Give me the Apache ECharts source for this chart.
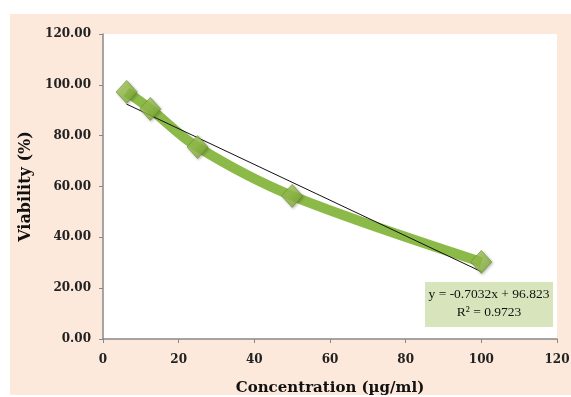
<!DOCTYPE html>
<html>
<head>
<meta charset="utf-8">
<script src="https://cdn.jsdelivr.net/npm/echarts@6/dist/echarts.min.js"></script>
<style>
html,body{margin:0;padding:0;background:#fff;}
#c{width:571px;height:397px;}
</style>
</head>
<body>
<div id="c"></div>
<script>
var concentrations = [6.25, 12.5, 25, 50, 100];
var viability = [97.2, 90.5, 75.5, 56.3, 30.3];
var trendX = [6.25, 100];
var trendY = [92.4, 26.5];
var yTicks = [0, 20, 40, 60, 80, 100, 120];
var xTicks = [0, 20, 40, 60, 80, 100, 120];
var equationText = 'y = -0.7032x + 96.823';
var r2Text = 'R\u00b2 = 0.9723';

var pts = concentrations.map(function(x, i){ return [x, viability[i]]; });
var trend = trendX.map(function(x, i){ return [x, trendY[i]]; });

var chart = echarts.init(document.getElementById('c'), null, {renderer:'canvas'});
var labelFont = {fontFamily:'DejaVu Serif', fontWeight:'bold', fontSize:12, color:'#222'};
chart.setOption({
  animation:false,
  backgroundColor:'#ffffff',
  graphic:[
    {type:'rect', z:-10, shape:{x:10,y:14,width:561,height:381}, style:{fill:'#fde9db'}, silent:true},
    {type:'rect', z:100, shape:{x:425,y:282,width:128,height:45}, style:{fill:'#d7e4bc'}},
    {type:'text', z:101, x:489, y:287, style:{text:equationText, fill:'#111', font:'13.5px "Liberation Serif"', textAlign:'center', textVerticalAlign:'top'}},
    {type:'text', z:101, x:489, y:305, style:{text:r2Text, fill:'#111', font:'13.5px "Liberation Serif"', textAlign:'center', textVerticalAlign:'top'}}
  ],
  grid:{left:103, right:14, top:34, bottom:58, show:true, backgroundColor:'#ffffff', borderWidth:0, outerBoundsMode:'none', containLabel:false},
  xAxis:{
    type:'value', min:0, max:120, interval:20,
    name:'Concentration (\u00b5g/ml)', nameLocation:'middle', nameGap:42,
    nameTextStyle:{fontFamily:'DejaVu Serif', fontWeight:'bold', fontSize:15, color:'#111'},
    axisLine:{show:true, lineStyle:{color:'#888', width:1.5}},
    axisTick:{show:true, length:4, lineStyle:{color:'#888'}},
    axisLabel:Object.assign({margin:15, formatter:function(v){return xTicks.indexOf(v)>=0?String(v):'';}}, labelFont),
    splitLine:{show:false}
  },
  yAxis:{
    type:'value', min:0, max:120, interval:20,
    name:'Viability (%)', nameLocation:'middle', nameGap:68,
    nameTextStyle:{fontFamily:'DejaVu Serif', fontWeight:'bold', fontSize:16, color:'#111'},
    axisLine:{show:true, lineStyle:{color:'#888', width:1.5}},
    axisTick:{show:true, length:4, lineStyle:{color:'#888'}},
    axisLabel:Object.assign({margin:12, formatter:function(v){return yTicks.indexOf(v)>=0?v.toFixed(2):'';}}, labelFont),
    splitLine:{show:false}
  },
  series:[
    {type:'line', data:pts, smooth:0.35, showSymbol:false, lineStyle:{color:'#8cba48', width:10}, z:2},
    {type:'line', data:trend, showSymbol:false, lineStyle:{color:'#111', width:1}, z:3},
    {type:'scatter', data:pts, symbol:'diamond', symbolSize:[21,23], z:4,
     itemStyle:{color:new echarts.graphic.LinearGradient(0,0,1,1,[{offset:0,color:'#b0d664'},{offset:1,color:'#76a22e'}]), borderColor:'#6b8f2c', borderWidth:0.8, shadowColor:'rgba(0,0,0,0.3)', shadowBlur:3, shadowOffsetX:1, shadowOffsetY:1}}
  ]
});
</script>
</body>
</html>
